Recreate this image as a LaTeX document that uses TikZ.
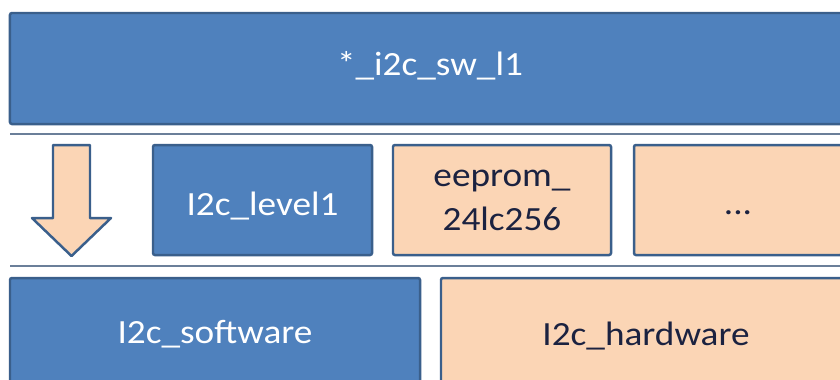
\documentclass[tikz,border=0pt]{standalone}
\usepackage{fontspec}
\setmainfont{Carlito}
\newfontfamily\boxfont[FakeStretch=1.1]{Carlito}
\usepackage{tikz}
\definecolor{layblue}{HTML}{4F81BD}
\definecolor{layedge}{HTML}{3A5F8B}
\definecolor{laypeach}{HTML}{FBD5B5}
\definecolor{laytext}{HTML}{1B2240}
\definecolor{sepline}{HTML}{6B7F99}
\tikzset{
  blk/.style={draw=layedge,fill=layblue,line width=2.5pt,rounded corners=2pt,
    text=white,font=\boxfont\fontsize{34}{44}\selectfont,align=center,inner sep=0pt},
  pch/.style={blk,fill=laypeach,text=laytext},
  sgl/.style={text height=27bp,text depth=7bp},
  sep/.style={draw=sepline,line width=1.3pt},
}
\begin{document}
\begin{tikzpicture}[x=1bp,y=-1bp]
  \useasboundingbox (0,0) rectangle (840,379);
  \clip (0,0) rectangle (840,379);
  \fill[white] (0,0) rectangle (840,379);
  % top layer
  \node[blk,text height=20bp,text depth=7bp,minimum width=840bp,minimum height=111bp] (top) at (430,68.5) {*\_i2c\_sw\_l1};
  \draw[sep] (10,134) -- (840,134);
  % middle layer
  \filldraw[draw=layedge,fill=laypeach,line width=2.5pt,line join=round]
    (53,145) -- (90,145) -- (90,218) -- (111,218) -- (71.5,256) -- (32,218) -- (53,218) -- cycle;
  \node[blk,sgl,text height=30bp,text depth=0bp,minimum width=219bp,minimum height=110bp] (lvl) at (262.5,200) {I2c\_level1};
  \node[pch,minimum width=218bp,minimum height=110bp] (eep) at (502,200) {eeprom\_\\24lc256};
  \node[pch,sgl,text height=32bp,text depth=4bp,minimum width=208bp,minimum height=110bp] (more) at (738,200) {...};
  \draw[sep] (10,266) -- (840,266);
  % bottom layer
  \node[blk,sgl,minimum width=410bp,minimum height=110bp] (sw) at (215,333) {I2c\_software};
  \node[pch,sgl,text height=29bp,text depth=5bp,minimum width=410bp,minimum height=110bp] (hw) at (646,333) {I2c\_hardware};
\end{tikzpicture}
\end{document}
